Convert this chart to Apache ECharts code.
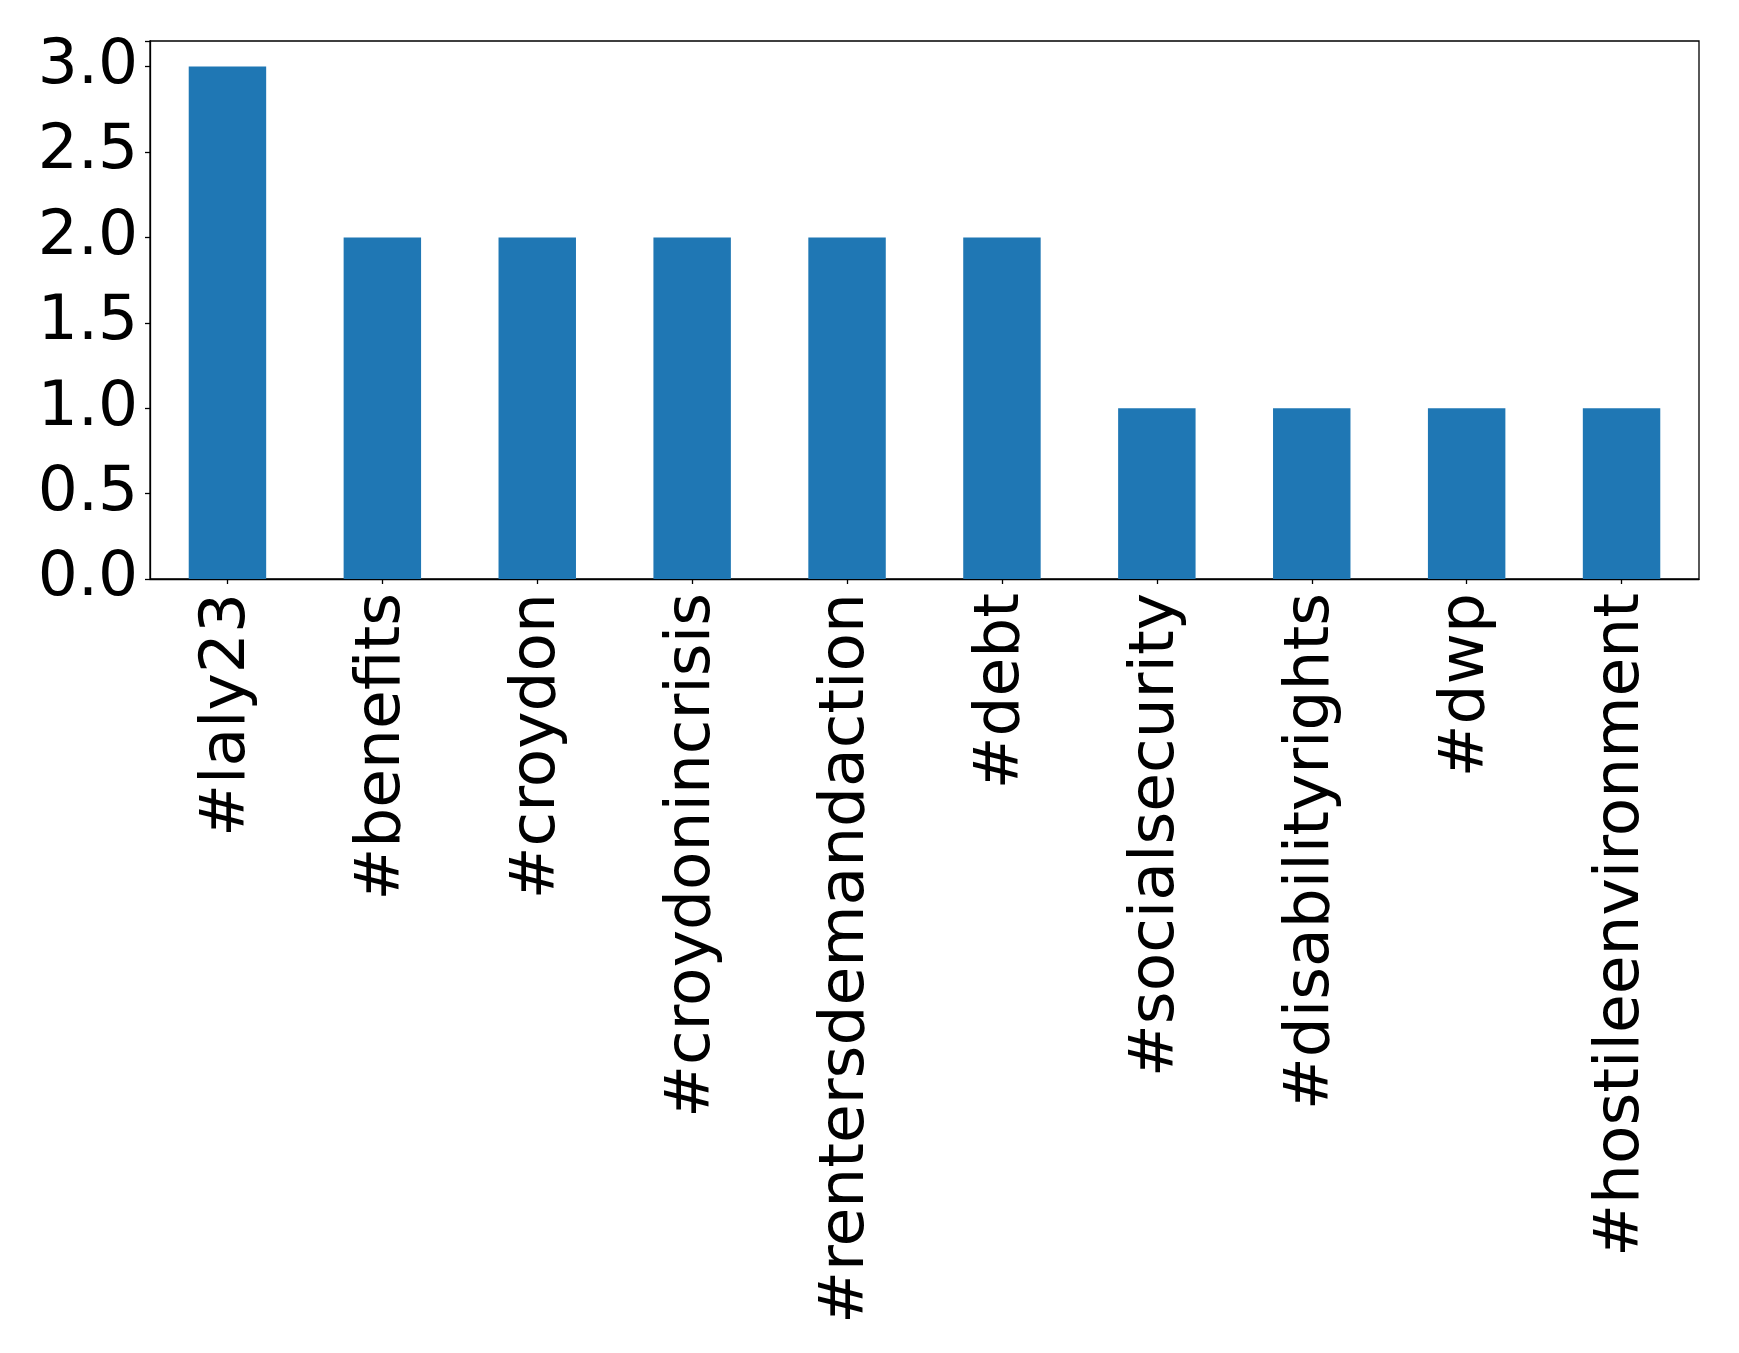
<!DOCTYPE html>
<html>
<head>
<meta charset="utf-8">
<script src="https://cdn.jsdelivr.net/npm/echarts@6/dist/echarts.min.js"></script>
<style>
html,body{margin:0;padding:0;background:#fff;}
#chart{width:1739px;height:1353px;}
</style>
</head>
<body>
<div id="chart"></div>
<script>
const categories = ["#laly23","#benefits","#croydon","#croydonincrisis","#rentersdemandaction","#debt","#socialsecurity","#disabilityrights","#dwp","#hostileenvironment"];
const counts = [3,2,2,2,2,2,1,1,1,1];
const yTicks = [0.0,0.5,1.0,1.5,2.0,2.5,3.0];

const chart = echarts.init(document.getElementById('chart'), null, {renderer:'canvas'});
const font = 'DejaVu Sans';
chart.setOption({
  animation:false,
  backgroundColor:'#ffffff',
  grid:{left:150,top:41,width:1549,height:538,show:true,borderColor:'#000',borderWidth:1.3,backgroundColor:'transparent'},
  xAxis:{
    type:'category',
    data:categories,
    boundaryGap:true,
    axisLine:{show:true,lineStyle:{color:'#000',width:1.3}},
    axisTick:{show:true,alignWithLabel:true,length:5,lineStyle:{color:'#000',width:1.3}},
    axisLabel:{rotate:90,interval:0,margin:14,color:'#000',fontFamily:font,fontSize:63}
  },
  yAxis:{
    type:'value',
    min:0,max:3.15,interval:0.5,
    splitLine:{show:false},
    axisLine:{show:true,lineStyle:{color:'#000',width:1.3}},
    axisTick:{show:true,length:5,lineStyle:{color:'#000',width:1.3}},
    axisLabel:{margin:12,color:'#000',fontFamily:font,fontSize:63,
      formatter:function(v){ return yTicks.indexOf(v)>=0 ? v.toFixed(1) : ''; }}
  },
  series:[{type:'bar',data:counts,barWidth:'50%',itemStyle:{color:'#1f77b4'}}]
});
</script>
</body>
</html>
